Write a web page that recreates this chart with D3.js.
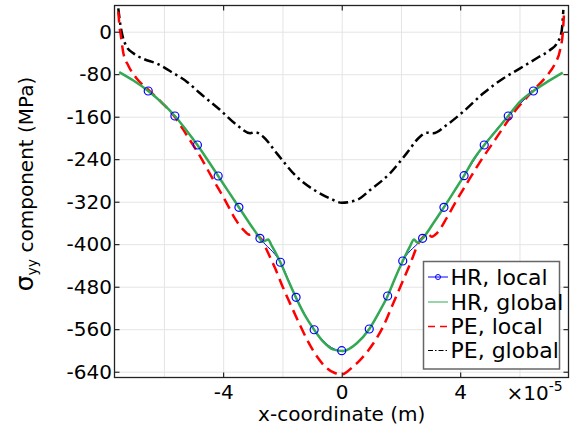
<!DOCTYPE html>
<html>
<head>
<meta charset="utf-8">
<script src="https://cdn.jsdelivr.net/npm/d3@7"></script>
<style>
    body { margin: 0; background: #fff; }
    svg { display: block; font-family: "DejaVu Sans", sans-serif; }
    .grid line { stroke: #e4e4e4; stroke-width: 1; }
    .grid .domain { display: none; }
    .axis .domain { display: none; }
    .axis line { stroke: #000; stroke-width: 1; }
    .axis text { font-size: 20px; fill: #000; font-family: "DejaVu Sans", sans-serif; }
</style>
</head>
<body>
<div id="chart"></div>
<script>
// x in units of 1e-5 m, y in MPa
const xTicks = [-4, 0, 4];
const xGrid = [-6, -4, -2, 0, 2, 4, 6];
const yTicks = [0, -80, -160, -240, -320, -400, -480, -560, -640];

const hrLocal = [
    [-6.53, -111.6], [-5.63, -158.7], [-4.87, -213.3], [-4.17, -271.6], [-3.47, -330.5],
    [-2.76, -389], [-2.07, -434], [-1.54, -500], [-0.93, -561], [0, -600.5],
    [0.93, -559.6], [1.55, -497.5], [2.06, -431.6], [2.73, -389], [3.45, -330.5],
    [4.13, -271], [4.81, -213.3], [5.62, -158.7], [6.47, -111.6]
];

const hrGlobal = [
    [-7.51, -76], [-7.03, -92], [-6.53, -111.6], [-6.08, -133], [-5.63, -158.7],
    [-5.25, -185], [-4.87, -213.3], [-4.52, -242], [-4.17, -271.6], [-3.82, -301],
    [-3.47, -330.5], [-3.12, -360], [-2.76, -389], [-2.69, -395], [-2.6, -394],
    [-2.48, -391], [-2.38, -401], [-2.07, -434], [-1.8, -469], [-1.54, -501],
    [-1.25, -533], [-0.93, -561], [-0.6, -585], [-0.3, -598], [0.05, -601],
    [0.51, -586.5], [0.93, -559.6], [1.24, -530], [1.55, -497.5], [1.8, -464],
    [2.06, -431.6], [2.3, -404.7], [2.44, -391], [2.55, -397], [2.73, -389],
    [3.09, -360.7], [3.45, -330.5], [3.8, -300], [4.13, -271], [4.44, -241.5],
    [4.81, -213.3], [5.23, -185], [5.62, -158.7], [6.02, -131.8], [6.47, -111.6],
    [6.92, -95], [7.46, -77]
];

const peLocal = [
    [-7.54, 38], [-7.5, 10], [-7.46, -5], [-7.37, -40], [-7.2, -64],
    [-6.92, -88], [-6.53, -109], [-6.1, -132], [-5.68, -157], [-5.25, -193],
    [-4.84, -229], [-4.33, -279], [-3.88, -323], [-3.6, -352], [-3.3, -374],
    [-3.12, -382], [-2.98, -380], [-2.85, -383], [-2.7, -391], [-2.53, -411],
    [-2.25, -445], [-1.97, -483], [-1.69, -518], [-1.41, -552], [-1.13, -584],
    [-0.84, -611], [-0.51, -633], [-0.25, -642], [0, -645], [0.39, -630],
    [0.62, -618], [1.07, -586.5], [1.4, -555], [1.74, -511], [2.08, -467],
    [2.36, -430], [2.59, -398], [2.75, -386], [2.89, -380], [3.04, -386],
    [3.21, -379.5], [3.54, -351], [3.82, -323], [4.25, -283], [4.67, -245],
    [5.23, -199], [5.79, -153.6], [6.47, -110], [6.92, -83], [7.2, -60],
    [7.37, -34.5], [7.46, -3], [7.51, 41]
];

const peGlobal = [
    [-7.54, 44], [-7.46, 9.4], [-7.39, -9.4], [-7.26, -28], [-7.03, -40.7],
    [-6.7, -51], [-6.24, -60], [-5.68, -78], [-5.23, -94], [-4.78, -116],
    [-4.11, -147], [-3.54, -175.6], [-3.09, -191], [-2.93, -189], [-2.65, -197.6],
    [-2.19, -229], [-1.52, -273], [-0.84, -301], [-0.39, -314], [0, -322],
    [0.51, -316.8], [0.96, -298], [1.63, -266.5], [2.19, -229], [2.64, -197.6],
    [2.87, -190], [3.09, -191], [3.54, -175.6], [4.1, -150.6], [4.78, -116],
    [5.45, -88], [6.02, -69], [6.58, -50], [7.03, -34.5], [7.26, -22],
    [7.42, 0], [7.48, 41]
];

const legendLabels = ['HR, local', 'HR, global', 'PE, local', 'PE, global'];

const W = 577, H = 433;
const plot = { left: 114.5, top: 5.5, right: 568.5, bottom: 377.5 };

const x = d3.scaleLinear().domain([-7.668, 7.654]).range([plot.left, plot.right]);
const y = d3.scaleLinear().domain([-650.9, 49.3]).range([plot.bottom, plot.top]);

const svg = d3.select('#chart').append('svg')
    .attr('width', W)
    .attr('height', H);

svg.append('rect').attr('width', W).attr('height', H).attr('fill', '#fff');

// grid
svg.append('g')
    .attr('class', 'grid')
    .attr('transform', `translate(0, ${plot.bottom})`)
    .call(d3.axisBottom(x).tickValues(xGrid).tickSize(-(plot.bottom - plot.top)).tickFormat(''));

svg.append('g')
    .attr('class', 'grid')
    .attr('transform', `translate(${plot.left}, 0)`)
    .call(d3.axisLeft(y).tickValues(yTicks).tickSize(-(plot.right - plot.left)).tickFormat(''));

svg.append('clipPath').attr('id', 'clip')
    .append('rect')
    .attr('x', plot.left).attr('y', plot.top)
    .attr('width', plot.right - plot.left).attr('height', plot.bottom - plot.top);

const g = svg.append('g').attr('clip-path', 'url(#clip)');

const line = d3.line()
    .x(d => x(d[0]))
    .y(d => y(d[1]))
    .curve(d3.curveMonotoneX);

g.append('path').datum(hrLocal)
    .attr('d', line)
    .attr('fill', 'none').attr('stroke', '#0000ff').attr('stroke-width', 1);

g.append('path').datum(peGlobal)
    .attr('d', line)
    .attr('fill', 'none').attr('stroke', '#000')
    .attr('stroke-width', 2.5).attr('stroke-dasharray', '10,4,2.5,4');

g.append('path').datum(peLocal)
    .attr('d', line)
    .attr('fill', 'none').attr('stroke', '#ff0000')
    .attr('stroke-width', 2.5).attr('stroke-dasharray', '11,6');

g.append('path').datum(hrGlobal)
    .attr('d', line)
    .attr('fill', 'none').attr('stroke', '#34a853').attr('stroke-width', 2.5);

g.selectAll('.dot')
    .data(hrLocal)
    .enter()
    .append('circle')
    .attr('class', 'dot')
    .attr('cx', d => x(d[0]))
    .attr('cy', d => y(d[1]))
    .attr('r', 4)
    .attr('fill', 'none')
    .attr('stroke', '#0000ff')
    .attr('stroke-width', 1.2);

// axes, ticks pointing inward
svg.append('g')
    .attr('class', 'axis')
    .attr('transform', `translate(0, ${plot.bottom})`)
    .call(d3.axisBottom(x).tickValues(xTicks).tickSizeInner(-5).tickSizeOuter(0).tickPadding(7.5)
        .tickFormat(d => d3.format('d')(d).replace('−', '-')));

svg.append('g')
    .attr('class', 'axis')
    .attr('transform', `translate(0, ${plot.top})`)
    .call(d3.axisTop(x).tickValues(xTicks).tickSizeInner(-5).tickSizeOuter(0).tickFormat(''));

svg.append('g')
    .attr('class', 'axis')
    .attr('transform', `translate(${plot.left}, 0)`)
    .call(d3.axisLeft(y).tickValues(yTicks).tickSizeInner(-5).tickSizeOuter(0).tickPadding(2.5)
        .tickFormat(d => d3.format('d')(d).replace('−', '-')));

svg.append('g')
    .attr('class', 'axis')
    .attr('transform', `translate(${plot.right}, 0)`)
    .call(d3.axisRight(y).tickValues(yTicks).tickSizeInner(-5).tickSizeOuter(0).tickFormat(''));

// frame
svg.append('rect')
    .attr('x', plot.left).attr('y', plot.top)
    .attr('width', plot.right - plot.left).attr('height', plot.bottom - plot.top)
    .attr('fill', 'none').attr('stroke', '#222').attr('stroke-width', 1.3);

// x multiplier
const mult = svg.append('text')
    .attr('x', 506.5).attr('y', 400)
    .attr('font-size', 20);
mult.append('tspan').text('×10');
mult.append('tspan').attr('dy', -9).attr('font-size', 14).text('-5');

// axis labels
svg.append('text')
    .attr('x', 341.7).attr('y', 421)
    .attr('text-anchor', 'middle')
    .attr('font-size', 20)
    .text('x-coordinate (m)');

const yl = svg.append('text')
    .attr('transform', 'translate(33, 184) rotate(-90)')
    .attr('text-anchor', 'middle')
    .attr('font-size', 20);
yl.append('tspan').attr('font-size', 25).text('σ');
yl.append('tspan').attr('font-size', 14).attr('dy', 4).text('yy');
yl.append('tspan').attr('dy', -4).text(' component (MPa)');

// legend
const leg = svg.append('g');
leg.append('rect')
    .attr('x', 423.5).attr('y', 261.5)
    .attr('width', 136).attr('height', 107.5)
    .attr('fill', '#fff').attr('stroke', '#666').attr('stroke-width', 1.5);

const legBase = [284.5, 309.5, 334, 358];
const legStroke = ['#0000ff', '#34a853', '#ff0000', '#000'];
const legDash = [null, null, '7,5', '5,2,1.5,2'];

legendLabels.forEach((label, i) => {
    const ly = legBase[i] - 7.5;
    leg.append('line')
        .attr('x1', 428).attr('x2', 448)
        .attr('y1', ly).attr('y2', ly)
        .attr('stroke', legStroke[i])
        .attr('stroke-width', i == 2 ? 1.5 : 1)
        .attr('stroke-dasharray', legDash[i]);
    if (i == 0) {
        leg.append('circle')
            .attr('cx', 438).attr('cy', ly).attr('r', 2.5)
            .attr('fill', 'none').attr('stroke', '#0000ff').attr('stroke-width', 1);
    }
    leg.append('text')
        .attr('x', 450.5).attr('y', legBase[i])
        .attr('font-size', 22)
        .text(label);
});
</script>
</body>
</html>
